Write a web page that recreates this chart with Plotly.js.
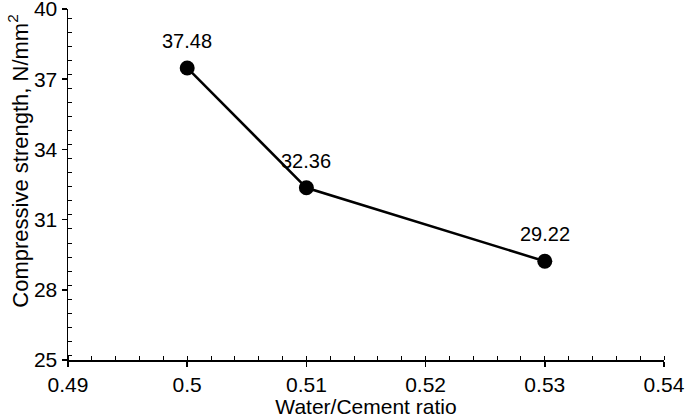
<!DOCTYPE html>
<html>
<head>
<meta charset="utf-8">
<script src="https://cdn.plot.ly/plotly-3.0.1.min.js"></script>
<style>
  html, body { margin: 0; padding: 0; background: #fff; }
  #plot { width: 685px; height: 418px; }
</style>
</head>
<body>
<div id="plot"></div>
<script>
// w/c ratio vs compressive strength
const wcRatio = [0.50, 0.51, 0.53];
const strength = [37.48, 32.36, 29.22];
const pointLabels = ['37.48', '32.36', '29.22'];
const xTicks = [0.49, 0.5, 0.51, 0.52, 0.53, 0.54];
const xTickText = ['0.49', '0.5', '0.51', '0.52', '0.53', '0.54'];
const yTicks = [25, 28, 31, 34, 37, 40];

const font = 'Liberation Sans, Arial, sans-serif';

let trace = {
  x: wcRatio, y: strength, mode: 'lines+markers', type: 'scatter',
  line: { color: '#000', width: 2.5 },
  marker: { color: '#000', size: 15 },
  hoverinfo: 'skip', showlegend: false
};

let annotations = wcRatio.map((xv, i) => ({
  x: xv, y: strength[i], text: pointLabels[i], showarrow: false,
  yshift: 27, font: { family: font, size: 20, color: '#000' }
}));

// y title sits a bit above the axis middle in the original, so place it by hand
annotations.push({
  xref: 'paper', yref: 'paper', x: 0, y: 0.565, xanchor: 'center', yanchor: 'middle',
  xshift: -50, textangle: -90, showarrow: false,
  text: 'Compressive strength, N/mm<sup>2</sup>',
  font: { family: font, size: 22, color: '#000' }
});

Plotly.newPlot('plot', [trace], {
  width: 685, height: 418,
  margin: { l: 68, r: 21, t: 9, b: 58 },
  paper_bgcolor: '#fff', plot_bgcolor: '#fff',
  font: { family: font, color: '#000' },
  xaxis: {
    range: [0.49, 0.54], tickvals: xTicks, ticktext: xTickText,
    showgrid: false, zeroline: false, showline: true, linecolor: '#000', linewidth: 1.5,
    ticks: 'outside', ticklen: 5, tickwidth: 1.5, tickcolor: '#000',
    tickfont: { size: 21 }, ticklabeloverflow: 'allow',
    minor: { ticks: 'inside', dtick: 0.002, ticklen: 4, tickwidth: 1, tickcolor: '#000' },
    title: { text: 'Water/Cement ratio', font: { size: 21 }, standoff: 5 }
  },
  yaxis: {
    range: [25, 40], tickvals: yTicks,
    showgrid: false, zeroline: false, showline: true, linecolor: '#000', linewidth: 1.5,
    ticks: 'outside', ticklen: 5, tickwidth: 1.5, tickcolor: '#000',
    tickfont: { size: 21 }, ticklabeloverflow: 'allow',
    minor: { ticks: 'inside', dtick: 0.6, ticklen: 4, tickwidth: 1, tickcolor: '#000' }
  },
  annotations: annotations
}, { staticPlot: true });
</script>
</body>
</html>
